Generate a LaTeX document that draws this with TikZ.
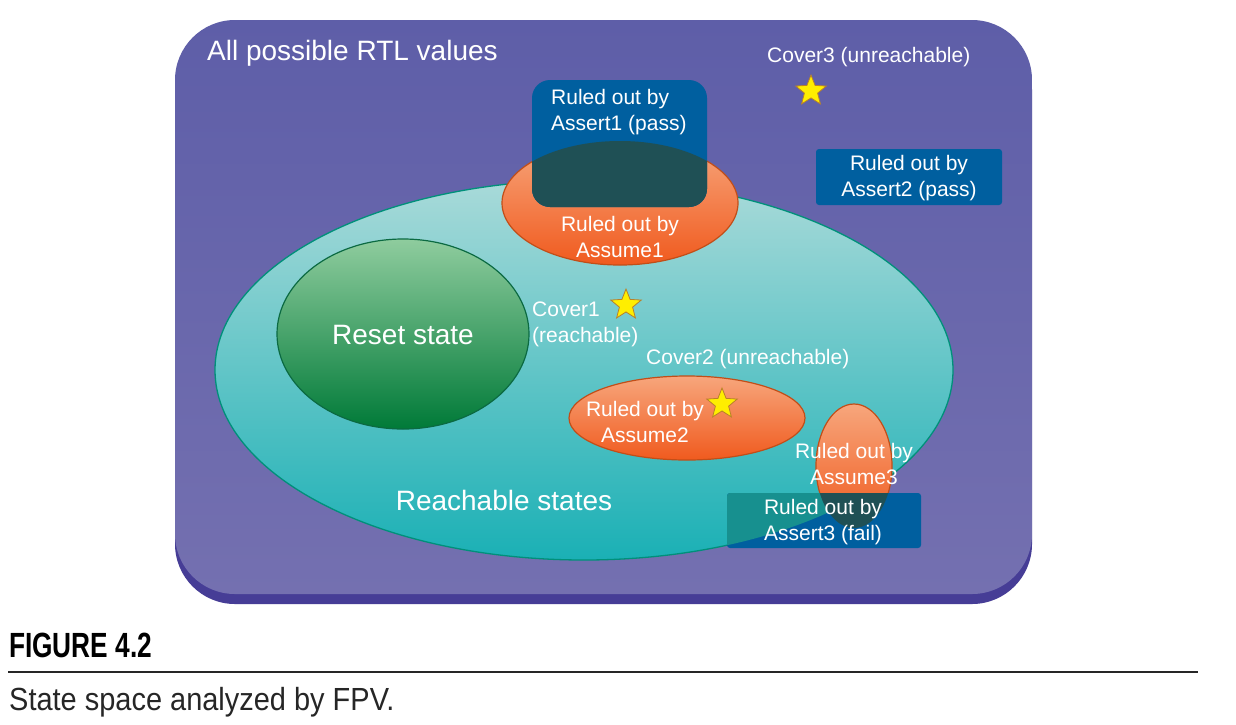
\documentclass[tikz,border=0pt]{standalone}
\usepackage{fontspec}
\setmainfont{Liberation Sans}
\usetikzlibrary{shapes.geometric}
\definecolor{purpTop}{HTML}{5E5EA8}
\definecolor{purpBot}{HTML}{7470B0}
\definecolor{purpBand}{HTML}{463D96}
\definecolor{reachTop}{HTML}{A9DAD9}
\definecolor{reachBot}{HTML}{1AB0B5}
\definecolor{reachLine}{HTML}{00907A}
\definecolor{resetTop}{HTML}{8FCC9E}
\definecolor{resetBot}{HTML}{007A38}
\definecolor{resetLine}{HTML}{0B6A42}
\definecolor{orTop}{HTML}{F7A67C}
\definecolor{orBot}{HTML}{F05A1E}
\definecolor{orLine}{HTML}{C24E18}
\definecolor{boxBlue}{HTML}{005F9F}
\definecolor{boxDark}{HTML}{1F5055}
\definecolor{boxTeal}{HTML}{17908F}
\definecolor{starFill}{HTML}{FFEE00}
\definecolor{starLine}{HTML}{B8802A}
\tikzset{
  small/.style={text=white, font=\fontsize{21}{26}\selectfont, inner sep=0pt},
  big/.style={text=white, font=\fontsize{28}{33}\selectfont, inner sep=0pt},
  covstar/.style={star, star points=5, star point ratio=2.3, minimum size=32pt, inner sep=0pt, fill=starFill, draw=starLine, line width=0.8pt},
  orange/.style={top color=orTop, bottom color=orBot, draw=orLine, line width=1.2pt},
}
\begin{document}
\begin{tikzpicture}[x=1pt,y=1pt]
\useasboundingbox (0,0) rectangle (1236,-724);
\fill[white] (0,0) rectangle (1236,-724);
% outer box
\fill[purpBand, rounded corners=60pt] (175,-30) rectangle (1032,-604);
\shade[top color=purpTop, bottom color=purpBot, rounded corners=60pt] (175,-20) rectangle (1032,-594);
\node[big, anchor=west] (allv) at (207,-53.5) {All possible RTL values};
% reachable
\path[top color=reachTop, bottom color=reachBot, draw=reachLine, line width=1.3pt] (584,-370) ellipse [x radius=369, y radius=190];
% reset
\path[top color=resetTop, bottom color=resetBot, draw=resetLine, line width=1.2pt] (403,-334) ellipse [x radius=126, y radius=95];
\node[big] (reset) at (403,-335) {Reset state};
\node[big] (reach) at (504,-500) {Reachable states};
% Assume1
\path[orange] (620,-203) ellipse [x radius=118, y radius=62];
% Assert1 box
\fill[boxBlue, rounded corners=18pt] (532,-80) rectangle (707,-207);
\begin{scope}
\clip (620,-203) ellipse [x radius=118, y radius=62];
\fill[boxDark, rounded corners=18pt] (532,-80) rectangle (707,-207);
\end{scope}
\node[small, align=left, anchor=west] (as1) at (551,-112) {Ruled out by\\Assert1 (pass)};
\node[small, align=center] (am1) at (620,-237) {Ruled out by\\Assume1};
% Assert2 box
\fill[boxBlue, rounded corners=3pt] (816,-149) rectangle (1002,-205);
\node[small, align=center] (as2) at (909,-178) {Ruled out by\\Assert2 (pass)};
% Cover3
\node[small, anchor=west] (c3) at (767,-57.5) {Cover3 (unreachable)};
\node[covstar] (s3) at (811,-91) {};
% Cover1
\node[small, align=left, anchor=west] (c1) at (532,-324) {Cover1\\(reachable)};
\node[covstar] (s1) at (626,-305) {};
% Cover2 / Assume2
\node[small, anchor=west] (c2) at (646,-359.5) {Cover2 (unreachable)};
\path[orange] (687,-418) ellipse [x radius=118, y radius=42];
\node[small, align=center] (am2) at (645,-421.5) {Ruled out by\\Assume2};
\node[covstar] (s2) at (722,-404) {};
% Assume3
\path[orange] (854,-466) ellipse [x radius=38, y radius=62];
% Assert3 box
\fill[boxBlue, rounded corners=3pt] (727,-493) rectangle (921,-548);
\begin{scope}
\clip (584,-370) ellipse [x radius=369, y radius=190];
\fill[boxTeal, rounded corners=3pt] (727,-493) rectangle (921,-548);
\end{scope}
\begin{scope}
\clip (854,-466) ellipse [x radius=38, y radius=62];
\fill[boxDark, rounded corners=3pt] (727,-493) rectangle (921,-548);
\end{scope}
\node[small, align=center] (am3) at (854,-464) {Ruled out by\\Assume3};
\node[small, align=center] (as3) at (823,-522) {Ruled out by\\Assert3 (fail)};
% caption
\node[anchor=base west, inner sep=0pt, font=\fontsize{35}{40}\selectfont\bfseries] (fig) at (9,-657) {\scalebox{0.75}[1]{FIGURE 4.2}};
\draw[line width=2pt, black!85] (8,-672) -- (1198,-672);
\node[anchor=base west, inner sep=0pt, font=\fontsize{32}{36}\selectfont, text=black!85] (cap) at (9,-710) {\scalebox{0.905}[1]{State space analyzed by FPV.}};
\end{tikzpicture}
\end{document}
